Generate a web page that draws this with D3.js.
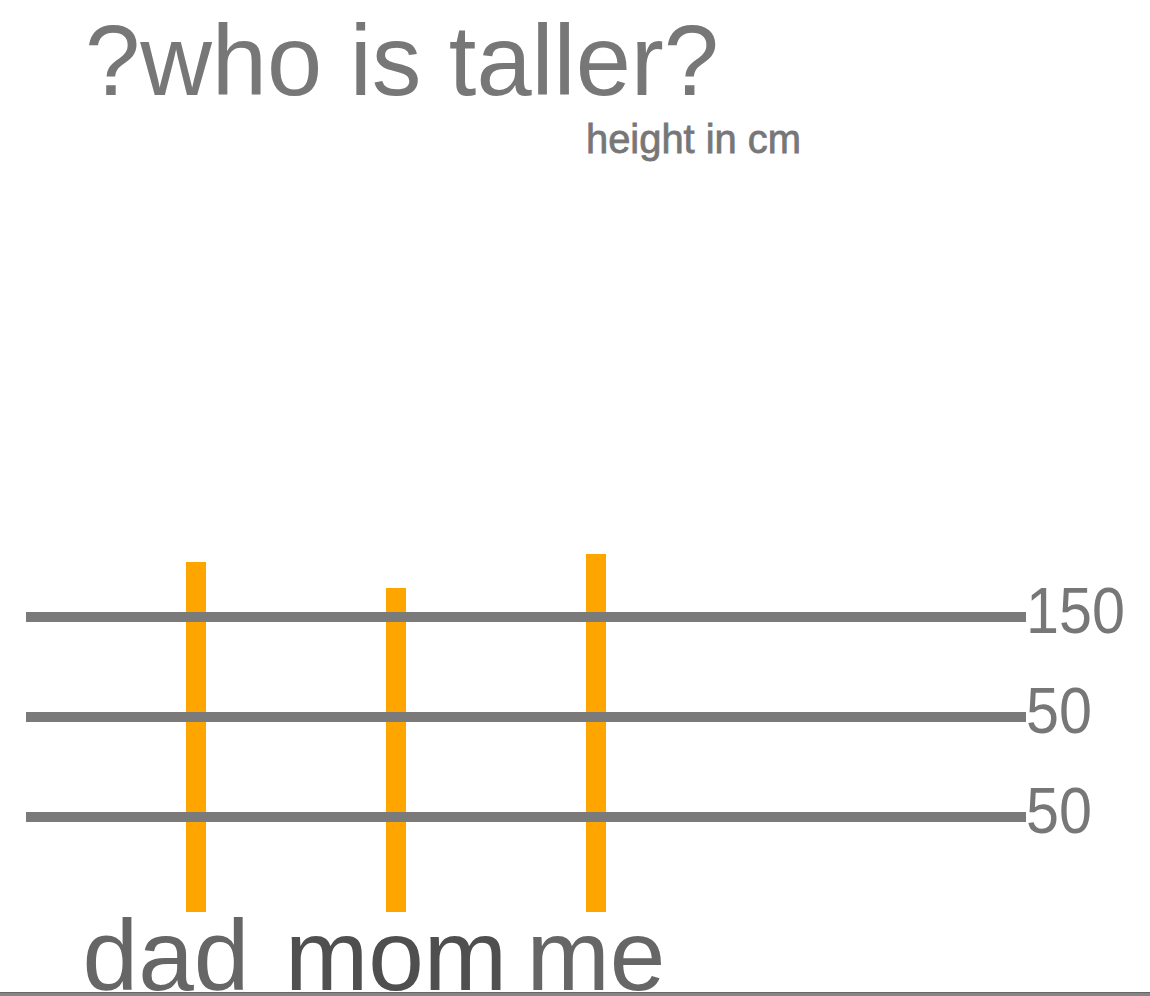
<!DOCTYPE html>
<html>
<head>
<meta charset="utf-8">
<script src="https://cdn.jsdelivr.net/npm/d3@7"></script>
<style>
  body { margin: 0; background: #fff; }
  svg { display: block; font-family: "Liberation Sans", Arial, sans-serif; }
</style>
</head>
<body>
<div id="chart"></div>
<script>
// data
const people = ["dad", "mom", "me"];
const heights = [175, 162, 179];
const gridValues = [147.5, 97.5, 47.5];
const gridLabels = ["150", "50", "50"];
const labelColors = ["#666", "#4f4f4f", "#666"];

const width = 1150;
const height = 996;

const svg = d3.select("#chart").append("svg")
    .attr("width", width)
    .attr("height", height);

// scales
const x = d3.scalePoint()
    .domain(people)
    .range([196, 596]);

const y = d3.scaleLinear()
    .domain([0, 200])
    .range([912, 512]);

// title
svg.append("text")
    .attr("x", 85)
    .attr("y", 95)
    .attr("fill", "#777")
    .attr("font-size", 100)
    .attr("textLength", 634)
    .attr("lengthAdjust", "spacingAndGlyphs")
    .text("?who is taller?");

svg.append("text")
    .attr("x", 586)
    .attr("y", 153)
    .attr("fill", "#777")
    .attr("font-size", 41)
    .attr("stroke", "#777")
    .attr("stroke-width", 0.8)
    .attr("textLength", 215)
    .attr("lengthAdjust", "spacingAndGlyphs")
    .text("height in cm");

// bars
svg.append("g")
    .selectAll("rect")
    .data(people)
    .join("rect")
    .attr("x", d => x(d) - 10)
    .attr("width", 20)
    .attr("y", (d, i) => y(heights[i]))
    .attr("height", (d, i) => y(0) - y(heights[i]))
    .attr("fill", "#ffa500");

// grid lines drawn over the bars
const grid = svg.append("g");
grid.selectAll("line")
    .data(gridValues)
    .join("line")
    .attr("x1", 26)
    .attr("x2", 1026)
    .attr("y1", d => y(d))
    .attr("y2", d => y(d))
    .attr("stroke", "#7a7a7a")
    .attr("stroke-width", 10);

grid.selectAll("text")
    .data(gridValues)
    .join("text")
    .attr("x", 1026)
    .attr("y", d => y(d) + 16)
    .attr("fill", "#777")
    .attr("font-size", 64)
    .attr("textLength", (d, i) => gridLabels[i].length * 33)
    .attr("lengthAdjust", "spacingAndGlyphs")
    .text((d, i) => gridLabels[i]);

// category labels (cut by the bottom edge, as in the original)
const labelNudge = { dad: -30, mom: 0, me: 0 };
svg.append("g")
    .selectAll("text")
    .data(people)
    .join("text")
    .attr("x", d => x(d) + labelNudge[d])
    .attr("y", 990)
    .attr("text-anchor", "middle")
    .attr("fill", (d, i) => labelColors[i])
    .attr("font-size", 100)
    .text(d => d);

// bottom axis line
svg.append("rect")
    .attr("x", 0)
    .attr("y", 992)
    .attr("width", width)
    .attr("height", 4)
    .attr("fill", "#858585");
svg.append("line")
    .attr("x1", 0)
    .attr("x2", width)
    .attr("y1", 992.5)
    .attr("y2", 992.5)
    .attr("stroke", "#666")
    .attr("stroke-width", 1);
</script>
</body>
</html>
